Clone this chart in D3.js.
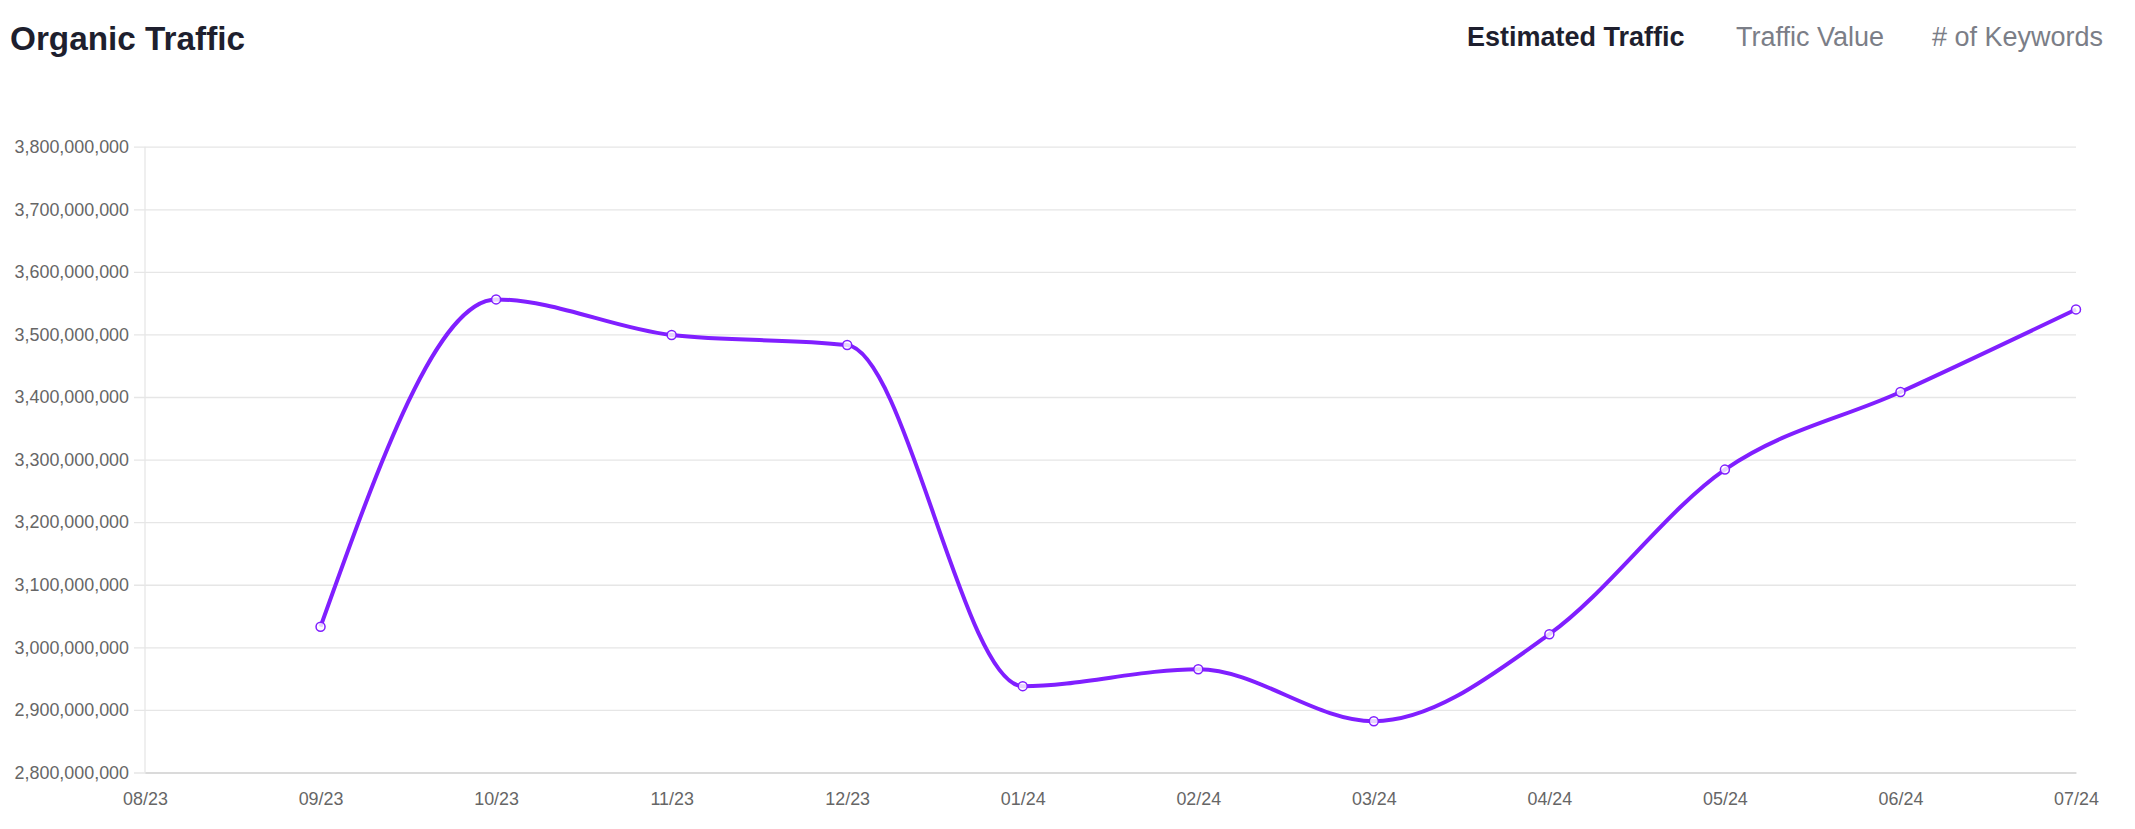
<!DOCTYPE html>
<html>
<head>
<meta charset="utf-8">
<title>Organic Traffic</title>
<script src="https://cdn.jsdelivr.net/npm/d3@7"></script>
<style>
  body { margin: 0; background: white; }
  svg { display: block; font-family: "Liberation Sans", Arial, sans-serif; }
</style>
</head>
<body>
<div id="chart"></div>
<script>
const months = ["08/23", "09/23", "10/23", "11/23", "12/23", "01/24", "02/24", "03/24", "04/24", "05/24", "06/24", "07/24"];
const traffic = [null, 3033000000, 3556000000, 3499000000, 3483000000, 2938000000, 2965000000, 2882000000, 3021000000, 3284000000, 3408000000, 3540000000];
const yTicks = [2800000000, 2900000000, 3000000000, 3100000000, 3200000000, 3300000000, 3400000000, 3500000000, 3600000000, 3700000000, 3800000000];
const tabs = ["Estimated Traffic", "Traffic Value", "# of Keywords"];

createChart();

function createChart() {
  const w = 2135;
  const h = 829;
  const paddingLeft = 145;
  const paddingRight = 59;
  const paddingTop = 146.7;
  const paddingBottom = 56.5;
  const chartW = w - paddingLeft - paddingRight;
  const lineColor = "#801fff";

  const xScale = d3.scalePoint()
                   .domain(months)
                   .range([paddingLeft, w - paddingRight]);

  const yScale = d3.scaleLinear()
                   .domain([d3.min(yTicks), d3.max(yTicks)])
                   .range([h - paddingBottom, paddingTop]);

  const svg = d3.select("#chart")
    .append("svg")
    .attr("width", w)
    .attr("height", h);

  // title + tabs
  svg.append("text")
    .attr("x", 10)
    .attr("y", 49.5)
    .text("Organic Traffic")
    .style("font-size", "33.3px")
    .style("font-weight", "bold")
    .attr("fill", "#1e1f2e");

  const tabX = [1467, 1736, 1932];
  svg.selectAll(".tab")
    .data(tabs)
    .enter()
    .append("text")
    .attr("class", "tab")
    .attr("x", (d, i) => tabX[i])
    .attr("y", 45.7)
    .text(d => d)
    .style("font-size", "27px")
    .style("font-weight", (d, i) => i === 0 ? "bold" : "normal")
    .attr("fill", (d, i) => i === 0 ? "#1e1f2e" : "#7b7e87");

  // y axis + grid
  const yAxis = d3.axisLeft(yScale)
    .tickValues(yTicks)
    .tickFormat(d3.format(","))
    .tickSize(0)
    .tickPadding(16);

  const gy = svg.append("g")
    .attr("transform", "translate(" + paddingLeft + ",0)")
    .call(yAxis);
  gy.select(".domain").remove();
  gy.selectAll(".tick line")
    .attr("x1", -11)
    .attr("x2", chartW)
    .attr("stroke", "#e6e6e6")
    .attr("stroke-width", 1.3);
  gy.selectAll(".tick text")
    .style("font-size", "17.9px")
    .attr("fill", "#666");

  svg.append("line")
    .attr("x1", paddingLeft)
    .attr("x2", paddingLeft)
    .attr("y1", paddingTop)
    .attr("y2", h - paddingBottom)
    .attr("stroke", "#e6e6e6")
    .attr("stroke-width", 1.3);

  // x axis
  const xAxis = d3.axisBottom(xScale)
    .tickSize(0)
    .tickPadding(20);

  const gx = svg.append("g")
    .attr("transform", "translate(0," + (h - paddingBottom) + ")")
    .call(xAxis);
  gx.select(".domain")
    .attr("stroke", "#d4d4d4")
    .attr("stroke-width", 1.5);
  gx.selectAll(".tick text")
    .style("font-size", "17.9px")
    .attr("fill", "#666");

  // line
  const line = d3.line()
    .defined(d => d !== null)
    .x((d, i) => xScale(months[i]))
    .y(d => yScale(d))
    .curve(d3.curveMonotoneX);

  svg.append("path")
    .datum(traffic)
    .attr("d", line)
    .attr("fill", "none")
    .attr("stroke", lineColor)
    .attr("stroke-width", 4);

  svg.selectAll(".dot")
    .data(traffic.map((v, i) => ({ m: months[i], v: v })).filter(d => d.v !== null))
    .enter()
    .append("circle")
    .attr("class", "dot")
    .attr("cx", d => xScale(d.m))
    .attr("cy", d => yScale(d.v))
    .attr("r", 4.5)
    .attr("fill", "rgba(255,255,255,0.8)")
    .attr("stroke", lineColor)
    .attr("stroke-width", 1.5);
}
</script>
</body>
</html>
